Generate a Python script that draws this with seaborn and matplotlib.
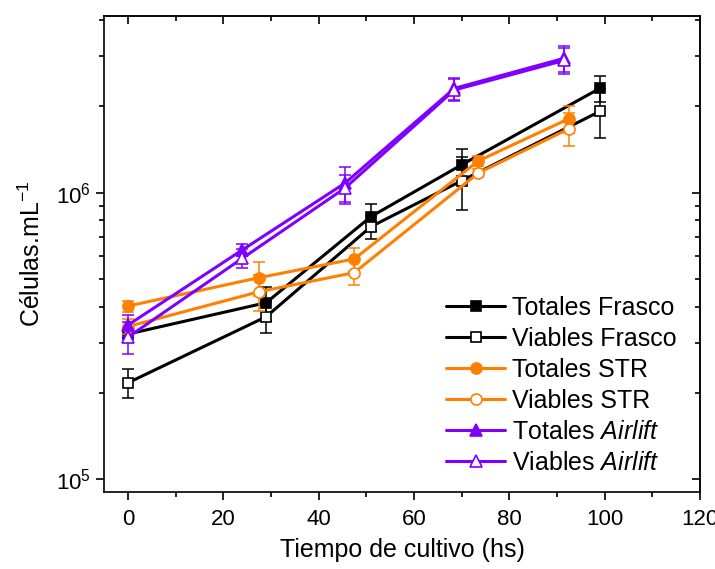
import matplotlib
matplotlib.use("Agg")
import numpy as np
import pandas as pd
import seaborn as sns
import matplotlib.pyplot as plt
from matplotlib.ticker import MultipleLocator, LogLocator, NullFormatter, LogFormatterSciNotation

# ---------------- data ----------------
t_frasco = [0, 29, 51, 70, 99]
tot_frasco = [3.21e5, 4.13e5, 8.25e5, 1.25e6, 2.31e6]
err_tot_frasco = [2.0e4, 5.5e4, 9.0e4, 1.7e5, 2.4e5]
via_frasco = [2.17e5, 3.69e5, 7.61e5, 1.10e6, 1.92e6]
err_via_frasco = [2.5e4, 4.6e4, 7.0e4, 2.3e5, 3.7e5]

t_str = [0, 27.5, 47.5, 73.5, 92.5]
tot_str = [4.02e5, 5.05e5, 5.87e5, 1.29e6, 1.81e6]
err_tot_str = [1.8e4, 7.0e4, 5.3e4, 5.0e4, 2.0e5]
via_str = [3.41e5, 4.51e5, 5.26e5, 1.17e6, 1.67e6]
err_via_str = [2.0e4, 6.5e4, 5.0e4, 4.0e4, 2.2e5]

t_air = [0, 24, 45.5, 68.5, 91.5]
tot_air = [3.45e5, 6.31e5, 1.078e6, 2.31e6, 2.94e6]
err_tot_air = [3.0e4, 3.0e4, 1.5e5, 2.0e5, 3.0e5]
via_air = [3.13e5, 5.90e5, 1.036e6, 2.28e6, 2.89e6]
err_via_air = [4.0e4, 4.5e4, 1.2e5, 2.0e5, 3.0e5]

labels = ["Totales Frasco", "Viables Frasco", "Totales STR", "Viables STR",
          "Totales $\\it{Airlift}$", "Viables $\\it{Airlift}$"]
x_ticks = [0, 20, 40, 60, 80, 100, 120]

# ---------------- style ----------------
sns.set_theme(style="ticks")
plt.rcParams["font.family"] = ["Liberation Sans", "DejaVu Sans"]
plt.rcParams["mathtext.fontset"] = "custom"
plt.rcParams["mathtext.rm"] = "Liberation Sans"
plt.rcParams["mathtext.it"] = "Liberation Sans:italic"
plt.rcParams["mathtext.bf"] = "Liberation Sans:bold"
plt.rcParams["axes.linewidth"] = 1.2
plt.rcParams["text.color"] = "black"
plt.rcParams["axes.labelcolor"] = "black"
plt.rcParams["xtick.color"] = "black"
plt.rcParams["ytick.color"] = "black"

BLACK = "#000000"
ORANGE = "#FF8000"
PURPLE = "#8000FF"

fig = plt.figure(figsize=(7.15, 5.69), dpi=100)
ax = fig.add_axes([0.1455, 0.1348, 0.8335, 0.8371])

series = [
    (t_frasco, tot_frasco, err_tot_frasco, BLACK, "s", True, 7.0, labels[0]),
    (t_frasco, via_frasco, err_via_frasco, BLACK, "s", False, 7.0, labels[1]),
    (t_str, tot_str, err_tot_str, ORANGE, "o", True, 8.0, labels[2]),
    (t_str, via_str, err_via_str, ORANGE, "o", False, 8.0, labels[3]),
    (t_air, tot_air, err_tot_air, PURPLE, "^", True, 8.5, labels[4]),
    (t_air, via_air, err_via_air, PURPLE, "^", False, 8.5, labels[5]),
]

for i, (t, v, e, c, m, filled, ms, lbl) in enumerate(series):
    df = pd.DataFrame({"t": t, "v": v})
    z = 3 + i
    ax.errorbar(t, v, yerr=e, fmt="none", ecolor=c, elinewidth=1.1,
                capsize=4.3, capthick=1.1, zorder=z)
    sns.lineplot(data=df, x="t", y="v", ax=ax, color=c, marker=m,
                 markersize=ms, markerfacecolor=(c if filled else "white"),
                 markeredgecolor=c, markeredgewidth=1.2, linewidth=2.2,
                 label=lbl, errorbar=None, sort=False, zorder=z + 0.5)

ax.set_yscale("log")
ax.set_xlim(-5, 120)
ax.set_ylim(9.01e4, 4.13e6)
ax.set_xticks(x_ticks)
ax.xaxis.set_minor_locator(MultipleLocator(10))
ax.yaxis.set_major_locator(LogLocator(base=10))
ax.yaxis.set_minor_locator(LogLocator(base=10, subs=np.arange(2, 10)))
ax.yaxis.set_minor_formatter(NullFormatter())
ax.yaxis.set_major_formatter(LogFormatterSciNotation())

ax.tick_params(which="major", direction="out", length=6, width=1.2,
               labelsize=16, colors="black", labelcolor="black")
ax.tick_params(which="minor", direction="out", length=3.5, width=1.2)
ax.tick_params(axis="x", pad=6)

for s in ax.spines.values():
    s.set_visible(True)
    s.set_linewidth(1.2)
    s.set_color("black")

# mirrored ticks (top and right, pointing inward)
secx = ax.secondary_xaxis("top")
secx.set_xticks(x_ticks)
secx.xaxis.set_minor_locator(MultipleLocator(10))
secx.tick_params(which="major", direction="in", length=6, width=1.2, labeltop=False)
secx.tick_params(which="minor", direction="in", length=3.5, width=1.2)
secx.spines["top"].set_linewidth(1.2)

secy = ax.secondary_yaxis("right")
secy.yaxis.set_major_locator(LogLocator(base=10))
secy.yaxis.set_minor_locator(LogLocator(base=10, subs=np.arange(2, 10)))
secy.yaxis.set_major_formatter(NullFormatter())
secy.yaxis.set_minor_formatter(NullFormatter())
secy.tick_params(which="major", direction="in", length=6, width=1.2, labelright=False)
secy.tick_params(which="minor", direction="in", length=3.5, width=1.2)
secy.spines["right"].set_linewidth(1.2)

ax.set_xlabel("Tiempo de cultivo (hs)", fontsize=18, labelpad=6, color="black")
ax.set_ylabel("Células.mL$^{-1}$", fontsize=18, labelpad=8, color="black")

h, l = ax.get_legend_handles_labels()
ax.legend(h, l, loc="upper left", bbox_to_anchor=(0.574, 0.412),
          frameon=False, fontsize=18, handlelength=2.36, handletextpad=0.28,
          labelspacing=0.28, borderpad=0, borderaxespad=0, numpoints=1)

fig.savefig("out.png", dpi=100)
